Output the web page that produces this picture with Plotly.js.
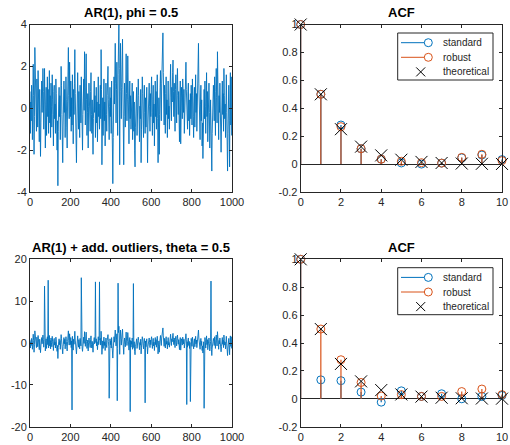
<!DOCTYPE html>
<html><head><meta charset="utf-8">
<script src="https://cdn.plot.ly/plotly-3.0.1.min.js"></script>
<style>html,body{margin:0;padding:0;background:#fff}#chart{width:510px;height:445px}</style>
</head><body><div id="chart"></div>
<script>
// AR(1) series, phi = 0.5 (every 2nd sample)
const ar1Series = [
0.8,-1.2,0.3,-0.6,1.1,0.4,-1.5,0.2,2.1,0.6,-2.2,-0.4,2.9,1.2,-0.8,0.5,-1.1,1.4,0.1,-0.9,1.8,0.7,-0.3,-1.6,0.9,-0.5,-2.3,-0.7,0.6,1.3,-0.2,0.4,1.9,0.8,-1.0,0.3,1.9,-0.6,-1.9,0.2,1.0,-1.3,0.5,1.5,-0.4,0.9,-1.2,0.3,1.8,-0.7,
0.6,-1.4,1.2,0.1,-0.9,1.6,0.4,-0.3,-1.8,0.8,1.1,-0.5,0.2,-1.2,1.4,0.7,-0.8,-2.0,-0.6,-3.7,-1.1,0.3,1.0,-0.4,0.6,-1.5,0.2,2.0,1.1,-0.3,-1.2,-2.6,-0.8,0.5,1.3,-0.2,0.9,-1.4,0.1,1.5,0.4,-0.9,-1.9,0.3,1.2,2.9,0.6,-0.5,2.2,0.9,
-0.4,1.3,-1.1,0.5,-0.8,1.6,0.2,-1.7,0.9,-0.3,1.2,2.8,0.7,-0.6,-1.5,-2.6,-0.9,0.4,1.7,0.3,-1.0,0.8,-0.2,-1.4,1.1,0.5,-0.7,1.5,0.2,-1.2,-2.0,-0.3,0.9,1.4,-0.1,2.7,1.0,-0.8,0.3,2.6,0.4,-1.3,-0.2,0.7,-1.9,0.1,1.2,-0.6,0.5,-1.1,
0.8,1.7,-0.3,-1.2,0.4,-0.8,-2.2,-0.5,0.9,1.3,-0.2,0.6,-1.4,0.1,1.0,-0.7,0.3,-1.6,0.8,1.5,-0.4,0.2,-1.0,0.7,1.1,-0.5,2.8,0.9,-2.7,-0.8,0.5,-1.3,0.2,1.4,-0.6,0.3,-1.8,0.7,1.2,-0.3,-1.1,0.6,1.6,2.0,0.4,-0.9,-1.5,0.1,1.0,-0.4,
0.5,-1.2,1.3,-0.6,-1.9,-3.6,-1.4,0.3,1.5,0.2,1.8,3.1,1.2,-0.7,0.9,2.2,0.4,-1.3,1.6,2.5,4.0,1.9,-2.7,0.8,3.1,1.4,-0.5,1.0,2.1,3.3,0.9,-1.1,-2.7,-0.4,1.2,0.3,-0.9,1.5,2.6,0.7,-0.6,0.4,2.5,1.1,-0.8,-1.7,0.2,1.3,-0.5,0.6,
-1.0,0.4,-0.3,1.2,-1.5,-0.6,0.8,-1.1,0.3,-2.0,-2.8,-0.9,0.5,-0.4,1.0,-1.3,0.2,-0.7,1.4,0.6,-0.8,-1.6,0.1,-0.5,0.9,-2.6,-1.0,0.4,1.5,0.7,-0.6,-1.4,0.3,1.1,-0.2,-1.2,0.5,-0.9,0.2,1.0,-1.5,-2.6,-0.8,0.6,-0.3,1.2,0.1,-1.1,0.7,-0.4,
0.9,1.5,-0.2,-1.3,0.4,1.1,-0.7,0.2,-1.8,0.6,1.3,-0.4,0.8,-1.0,0.3,1.6,-0.5,-2.6,-0.9,0.5,-2.2,-0.3,1.0,1.8,0.4,-0.6,1.2,2.3,1.4,3.6,1.7,0.6,-0.8,1.1,0.2,-1.2,0.7,1.5,-0.3,0.4,-1.4,0.9,1.3,-0.5,0.1,-1.0,0.8,1.2,2.1,0.5,
-0.6,1.0,0.3,1.7,2.3,0.8,-0.4,1.2,0.5,-1.1,0.9,1.6,0.2,-0.7,1.1,1.9,0.6,-0.3,0.8,-0.9,-1.6,0.4,1.3,-1.7,0.2,1.0,0.5,-0.5,1.4,0.7,-0.2,0.9,-1.2,0.3,1.5,0.6,2.2,0.9,-0.4,0.3,-1.0,0.8,1.2,-0.6,0.4,-1.3,0.1,0.7,-0.5,1.1,
0.3,-0.8,1.4,0.6,-0.4,-1.4,0.2,1.0,-0.9,0.5,1.6,-0.2,0.7,-1.1,0.4,1.8,0.9,3.1,1.2,-0.3,0.6,-1.5,0.2,1.1,-0.6,0.4,-1.8,-0.7,-2.4,-1.0,0.3,0.9,-0.5,1.3,0.1,-1.2,0.6,1.7,-0.4,0.8,-1.6,-0.6,0.5,1.2,-0.2,-1.9,-0.8,0.4,-0.3,-1.5,
-3.0,-1.2,0.3,-0.9,1.1,0.4,-0.6,1.5,0.2,-1.3,0.8,1.9,0.5,-0.7,2.7,1.0,-0.4,-1.5,0.6,-0.2,1.2,-0.9,0.3,-2.1,-0.8,0.5,1.3,-0.3,0.7,-1.1,1.9,0.6,-0.5,0.2,-1.4,0.9,1.6,-0.2,-1.0,-3.0,-1.2,0.4,1.1,-0.6,-2.8,0.3,1.7,-0.8,1.5,-1.3
];
const sampleStep = 2;

// additive outliers (time index, value)
const outlierIdx = [72, 90, 208, 254, 324, 344, 392, 432, 436, 496, 512, 570, 776, 794, 862, 896];
const outlierVal = [13.6, 15.0, -16.0, 15.6, 14.6, 14.6, -13.2, -13.8, 14.3, -16.4, 14.2, -14.3, -14.7, -14.0, -15.6, 14.8];

// ACF values
const lags = [0,1,2,3,4,5,6,7,8,9,10];
const acfTheoretical = [1, 0.5, 0.25, 0.125, 0.0625, 0.03125, 0.0156, 0.0078, 0.0039, 0.002, 0.001];
const acfStandardClean = [1, 0.50, 0.28, 0.11, 0.035, 0.008, 0.0, 0.007, 0.045, 0.065, 0.032];
const acfRobustClean   = [1, 0.50, 0.268, 0.11, 0.035, 0.02, 0.01, 0.007, 0.048, 0.07, 0.025];
const acfStandardOut   = [1, 0.136, 0.13, 0.048, -0.024, 0.057, 0.017, 0.036, 0.0, 0.017, 0.024];
const acfRobustOut     = [1, 0.50, 0.28, 0.117, 0.02, 0.03, 0.017, 0.017, 0.052, 0.07, 0.03];

// tick labels
const tsXTicks = [0, 200, 400, 600, 800, 1000];
const tsYTicksTop = [-4, -2, 0, 2, 4];
const tsYTicksBottom = [-20, -10, 0, 10, 20];
const acfXTicks = [0, 2, 4, 6, 8, 10];
const acfYTicks = [-0.2, 0, 0.2, 0.4, 0.6, 0.8, 1];
const acfYTickText = ['-0.2', '0', '0.2', '0.4', '0.6', '0.8', '1'];
const titles = ['AR(1), phi = 0.5', 'ACF', 'AR(1) + add. outliers, theta = 0.5', 'ACF'];
const legendNames = ['standard', 'robust', 'theoretical'];

const BLUE = '#0072BD', ORANGE = '#D95319', AX = '#262626';
const FONT = 'Liberation Sans, Arial, Helvetica, sans-serif';
const W = 510, H = 445;
const px = v => v / W, py = v => (H - v) / H;

const t = ar1Series.map((_, i) => i * sampleStep);
const contaminated = ar1Series.slice();
outlierIdx.forEach((ix, j) => { contaminated[Math.round(ix / sampleStep)] = outlierVal[j]; });

function stems(x, y) {
  const xs = [], ys = [];
  x.forEach((k, i) => { xs.push(k, k, null); ys.push(0, y[i], null); });
  return {xs, ys};
}

const traces = [];
traces.push({x: t, y: ar1Series, type: 'scatter', mode: 'lines', line: {color: BLUE, width: 0.9}, xaxis: 'x', yaxis: 'y', hoverinfo: 'skip'});
traces.push({x: t, y: contaminated, type: 'scatter', mode: 'lines', line: {color: BLUE, width: 0.9}, xaxis: 'x3', yaxis: 'y3', hoverinfo: 'skip'});

function acfTraces(std, rob, xa, ya) {
  const s1 = stems(lags, std), s2 = stems(lags, rob);
  traces.push({x: s1.xs, y: s1.ys, type: 'scatter', mode: 'lines', line: {color: BLUE, width: 1.2}, xaxis: xa, yaxis: ya, cliponaxis: false});
  traces.push({x: lags, y: std, type: 'scatter', mode: 'markers', marker: {symbol: 'circle-open', size: 8, color: BLUE, line: {width: 1, color: BLUE}}, xaxis: xa, yaxis: ya, cliponaxis: false});
  traces.push({x: s2.xs, y: s2.ys, type: 'scatter', mode: 'lines', line: {color: ORANGE, width: 1.2}, xaxis: xa, yaxis: ya, cliponaxis: false});
  traces.push({x: lags, y: rob, type: 'scatter', mode: 'markers', marker: {symbol: 'circle-open', size: 8, color: ORANGE, line: {width: 1, color: ORANGE}}, xaxis: xa, yaxis: ya, cliponaxis: false});
  traces.push({x: lags, y: acfTheoretical, type: 'scatter', mode: 'markers', marker: {symbol: 'x-thin-open', size: 12, color: '#000', line: {width: 1, color: '#000'}}, xaxis: xa, yaxis: ya, cliponaxis: false});
}
acfTraces(acfStandardClean, acfRobustClean, 'x2', 'y2');
acfTraces(acfStandardOut, acfRobustOut, 'x4', 'y4');

const colL = [px(30), px(232)], colR = [px(300.7), px(502)];
const rowT = [py(192), py(24.5)], rowB = [py(426.7), py(259.3)];

function ax(extra) {
  return Object.assign({
    showline: true, linecolor: AX, linewidth: 1, mirror: 'ticks',
    ticks: 'inside', ticklen: 3, tickwidth: 1, tickcolor: AX,
    tickfont: {family: FONT, size: 11, color: AX},
    showgrid: false, zeroline: false, fixedrange: true, automargin: false
  }, extra);
}

const annotations = [
  [colL, rowT, titles[0]], [colR, rowT, titles[1]], [colL, rowB, titles[2]], [colR, rowB, titles[3]]
].map(([c, r, txt]) => ({
  text: '<b>' + txt + '</b>', xref: 'paper', yref: 'paper',
  x: (c[0] + c[1]) / 2, y: r[1] + 0.026, xanchor: 'center', yanchor: 'middle',
  showarrow: false, font: {family: FONT, size: 13, color: '#000'}
}));

// hand-drawn MATLAB-style legends (decoration only)
const shapes = [];
function addLegend(top) {
  const left = 397.7, right = 493, rows = [top + 9.7, top + 24.3, top + 38.9];
  shapes.push({type: 'rect', xref: 'paper', yref: 'paper', x0: px(left), x1: px(right), y0: py(top + 47), y1: py(top),
    line: {color: AX, width: 1}, fillcolor: '#fff', layer: 'above'});
  [BLUE, ORANGE].forEach((c, i) => {
    const y = rows[i];
    shapes.push({type: 'line', xref: 'paper', yref: 'paper', x0: px(401), x1: px(424.3), y0: py(y), y1: py(y), line: {color: c, width: 1}, layer: 'above'});
    shapes.push({type: 'circle', xref: 'paper', yref: 'paper', x0: px(424.3), x1: px(432.3), y0: py(y + 4), y1: py(y - 4), line: {color: c, width: 1}, layer: 'above'});
  });
  const yx = rows[2], cx = 420.7, h = 4.5;
  shapes.push({type: 'line', xref: 'paper', yref: 'paper', x0: px(cx - h), x1: px(cx + h), y0: py(yx - h), y1: py(yx + h), line: {color: '#000', width: 1}, layer: 'above'});
  shapes.push({type: 'line', xref: 'paper', yref: 'paper', x0: px(cx - h), x1: px(cx + h), y0: py(yx + h), y1: py(yx - h), line: {color: '#000', width: 1}, layer: 'above'});
  legendNames.forEach((n, i) => annotations.push({
    text: n, xref: 'paper', yref: 'paper', x: px(441), y: py(rows[i]), xanchor: 'left', yanchor: 'middle',
    showarrow: false, font: {family: FONT, size: 10, color: AX}
  }));
}
addLegend(33);
addLegend(267.7);

const layout = {
  width: W, height: H,
  margin: {l: 0, r: 0, t: 0, b: 0},
  paper_bgcolor: '#fff', plot_bgcolor: '#fff',
  showlegend: false,
  xaxis: ax({domain: colL, anchor: 'y', range: [0, 1000], tickvals: tsXTicks, ticktext: tsXTicks.map(String)}),
  yaxis: ax({domain: rowT, anchor: 'x', range: [-4, 4], tickvals: tsYTicksTop, ticktext: tsYTicksTop.map(String)}),
  xaxis2: ax({domain: colR, anchor: 'y2', range: [0, 10], tickvals: acfXTicks, ticktext: acfXTicks.map(String)}),
  yaxis2: ax({domain: rowT, anchor: 'x2', range: [-0.2, 1], tickvals: acfYTicks, ticktext: acfYTickText, zeroline: true, zerolinecolor: AX, zerolinewidth: 1}),
  xaxis3: ax({domain: colL, anchor: 'y3', range: [0, 1000], tickvals: tsXTicks, ticktext: tsXTicks.map(String)}),
  yaxis3: ax({domain: rowB, anchor: 'x3', range: [-20, 20], tickvals: tsYTicksBottom, ticktext: tsYTicksBottom.map(String)}),
  xaxis4: ax({domain: colR, anchor: 'y4', range: [0, 10], tickvals: acfXTicks, ticktext: acfXTicks.map(String)}),
  yaxis4: ax({domain: rowB, anchor: 'x4', range: [-0.2, 1], tickvals: acfYTicks, ticktext: acfYTickText, zeroline: true, zerolinecolor: AX, zerolinewidth: 1}),
  shapes: shapes,
  annotations: annotations
};

Plotly.newPlot('chart', traces, layout, {displayModeBar: false, staticPlot: true});
</script></body></html>
